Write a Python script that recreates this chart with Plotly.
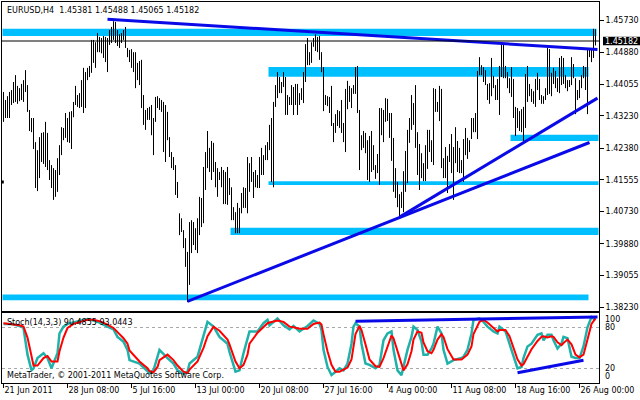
import plotly.graph_objects as go

# ---------------- data ----------------
symbol = "EURUSD,H4"
last_ohlc = [1.45381, 1.45488, 1.45065, 1.45182]

highs = [
    1.4385, 1.4364, 1.4374, 1.4385, 1.4390, 1.4411, 1.4429, 1.4401, 1.4395, 1.4406,
    1.4416, 1.4442, 1.4403, 1.4338, 1.4317, 1.4317, 1.4254, 1.4233, 1.4267, 1.4278,
    1.4280, 1.4307, 1.4278, 1.4207, 1.4194, 1.4186, 1.4181, 1.4212, 1.4246, 1.4293,
    1.4291, 1.4330, 1.4317, 1.4333, 1.4335, 1.4359, 1.4401, 1.4377, 1.4382, 1.4416,
    1.4448, 1.4437, 1.4448, 1.4453, 1.4521, 1.4521, 1.4515, 1.4539, 1.4529,
    1.4526, 1.4531, 1.4529, 1.4526, 1.4547, 1.4555, 1.4570, 1.4568, 1.4547, 1.4536,
    1.4539, 1.4547, 1.4555, 1.4500, 1.4495, 1.4497, 1.4489, 1.4489, 1.4461, 1.4466,
    1.4469, 1.4377, 1.4338, 1.4343, 1.4346, 1.4351, 1.4317, 1.4372, 1.4374, 1.4369,
    1.4364, 1.4359, 1.4351, 1.4333, 1.4267, 1.4228, 1.4215, 1.4194, 1.4150, 1.4068,
    1.4055, 1.4024, 1.4003, 1.3967, 1.4045, 1.4050, 1.4045, 1.4029, 1.4055, 1.4111,
    1.4108, 1.4189, 1.4228, 1.4283, 1.4239, 1.4257, 1.4252, 1.4202, 1.4186, 1.4176,
    1.4189, 1.4181, 1.4176, 1.4189, 1.4160, 1.4136, 1.4084, 1.4071, 1.4095, 1.4082,
    1.4121, 1.4136, 1.4134, 1.4215, 1.4199, 1.4215, 1.4176, 1.4181, 1.4168, 1.4215,
    1.4239, 1.4220, 1.4246, 1.4254, 1.4299, 1.4317, 1.4359, 1.4403, 1.4437, 1.4424,
    1.4411, 1.4437, 1.4424, 1.4377, 1.4372, 1.4403, 1.4398, 1.4406, 1.4406, 1.4382,
    1.4395, 1.4437, 1.4510, 1.4526, 1.4489, 1.4515, 1.4526, 1.4536, 1.4529, 1.4531,
    1.4489, 1.4450, 1.4377, 1.4374, 1.4372, 1.4401, 1.4304, 1.4327, 1.4338, 1.4335,
    1.4364, 1.4304, 1.4393, 1.4414, 1.4401, 1.4395, 1.4403, 1.4450, 1.4453, 1.4338,
    1.4272, 1.4283, 1.4278, 1.4259, 1.4270, 1.4283, 1.4246, 1.4194, 1.4223, 1.4343,
    1.4343, 1.4338, 1.4369, 1.4367, 1.4330, 1.4330, 1.4265, 1.4186, 1.4150, 1.4118,
    1.4124, 1.4178, 1.4231, 1.4286, 1.4317, 1.4377, 1.4356, 1.4403, 1.4280, 1.4249,
    1.4225, 1.4199, 1.4246, 1.4286, 1.4286, 1.4259, 1.4395, 1.4393, 1.4359, 1.4401,
    1.4393, 1.4212, 1.4241, 1.4218, 1.4249, 1.4275, 1.4241, 1.4293, 1.4257, 1.4239,
    1.4207, 1.4262, 1.4291, 1.4265, 1.4259, 1.4317, 1.4317, 1.4330, 1.4440, 1.4476,
    1.4455, 1.4450, 1.4442, 1.4406, 1.4408, 1.4474, 1.4427, 1.4403, 1.4419, 1.4453,
    1.4515, 1.4510, 1.4453, 1.4437, 1.4421, 1.4450, 1.4419, 1.4346, 1.4343, 1.4335,
    1.4340, 1.4346, 1.4432, 1.4453, 1.4406, 1.4393, 1.4387, 1.4419, 1.4435, 1.4419,
    1.4377, 1.4374, 1.4395, 1.4500, 1.4497, 1.4435, 1.4448, 1.4440, 1.4421, 1.4474,
    1.4479, 1.4474, 1.4429, 1.4416, 1.4416, 1.4476, 1.4458, 1.4421, 1.4390, 1.4416,
    1.4429, 1.4453, 1.4450, 1.4497, 1.4500, 1.4497, 1.4550, 1.45488,
]

lows = [
    1.4307, 1.4317, 1.4317, 1.4317, 1.4351, 1.4356, 1.4359, 1.4354, 1.4361, 1.4364,
    1.4359, 1.4385, 1.4333, 1.4283, 1.4280, 1.4236, 1.4134, 1.4126, 1.4160, 1.4202,
    1.4197, 1.4189, 1.4181, 1.4155, 1.4134, 1.4103, 1.4111, 1.4124, 1.4168, 1.4220,
    1.4259, 1.4265, 1.4254, 1.4252, 1.4236, 1.4319, 1.4351, 1.4346, 1.4343, 1.4346,
    1.4330, 1.4343, 1.4416, 1.4424, 1.4435, 1.4461, 1.4448, 1.4489, 1.4489,
    1.4486, 1.4474, 1.4463, 1.4437, 1.4508, 1.4513, 1.4521, 1.4513, 1.4505, 1.4500,
    1.4513, 1.4521, 1.4500, 1.4476, 1.4463, 1.4448, 1.4437, 1.4395, 1.4416, 1.4403,
    1.4343, 1.4299, 1.4286, 1.4312, 1.4312, 1.4272, 1.4220, 1.4307, 1.4343, 1.4338,
    1.4333, 1.4228, 1.4202, 1.4259, 1.4215, 1.4186, 1.4181, 1.4116, 1.4108, 1.4011,
    1.4019, 1.3977, 1.3928, 1.3836, 1.3881, 1.3964, 1.3985, 1.3972, 1.3964, 1.4011,
    1.4032, 1.4042, 1.4129, 1.4186, 1.4176, 1.4155, 1.4176, 1.4136, 1.4111, 1.4155,
    1.4136, 1.4092, 1.4092, 1.4090, 1.4116, 1.4050, 1.4050, 1.4016, 1.4016, 1.4016,
    1.4068, 1.4082, 1.4082, 1.4068, 1.4124, 1.4150, 1.4108, 1.4136, 1.4134, 1.4134,
    1.4168, 1.4168, 1.4207, 1.4207, 1.4233, 1.4150, 1.4136, 1.4346, 1.4369, 1.4382,
    1.4382, 1.4398, 1.4325, 1.4325, 1.4351, 1.4351, 1.4325, 1.4351, 1.4325, 1.4351,
    1.4364, 1.4356, 1.4411, 1.4455, 1.4455, 1.4461, 1.4503, 1.4492, 1.4489, 1.4469,
    1.4437, 1.4335, 1.4351, 1.4348, 1.4330, 1.4296, 1.4254, 1.4278, 1.4296, 1.4291,
    1.4278, 1.4254, 1.4228, 1.4340, 1.4359, 1.4343, 1.4380, 1.4380, 1.4330, 1.4181,
    1.4233, 1.4239, 1.4225, 1.4155, 1.4150, 1.4176, 1.4181, 1.4158, 1.4173, 1.4142,
    1.4272, 1.4254, 1.4307, 1.4309, 1.4265, 1.4205, 1.4124, 1.4108, 1.4084, 1.4055,
    1.4082, 1.4071, 1.4124, 1.4147, 1.4252, 1.4286, 1.4299, 1.4239, 1.4168, 1.4129,
    1.4160, 1.4152, 1.4152, 1.4184, 1.4228, 1.4202, 1.4194, 1.4333, 1.4333, 1.4309,
    1.4186, 1.4160, 1.4160, 1.4121, 1.4202, 1.4173, 1.4103, 1.4199, 1.4176, 1.4173,
    1.4173, 1.4150, 1.4220, 1.4210, 1.4228, 1.4262, 1.4280, 1.4280, 1.4262, 1.4429,
    1.4429, 1.4411, 1.4403, 1.4364, 1.4354, 1.4374, 1.4395, 1.4364, 1.4364, 1.4325,
    1.4424, 1.4421, 1.4421, 1.4395, 1.4382, 1.4372, 1.4317, 1.4270, 1.4291, 1.4283,
    1.4280, 1.4257, 1.4291, 1.4359, 1.4374, 1.4359, 1.4354, 1.4346, 1.4390, 1.4364,
    1.4354, 1.4354, 1.4364, 1.4377, 1.4380, 1.4374, 1.4406, 1.4395, 1.4385, 1.4382,
    1.4403, 1.4406, 1.4395, 1.4387, 1.4398, 1.4403, 1.4421, 1.4327, 1.4364, 1.4369,
    1.4395, 1.4421, 1.4390, 1.4327, 1.4476, 1.4463, 1.4474, 1.45065,
]

price_ticks = [1.45730, 1.44880, 1.44055, 1.43230, 1.42380,
               1.41555, 1.40730, 1.39880, 1.39055, 1.38230]

time_tick_idx = [0, 32, 64, 96, 128, 160, 192, 224, 256, 288]
time_tick_labels = ["21 Jun 2011", "28 Jun 08:00", "5 Jul 16:00", "13 Jul 00:00",
                    "20 Jul 08:00", "27 Jul 16:00", "4 Aug 00:00", "11 Aug 08:00",
                    "18 Aug 16:00", "26 Aug 00:00"]

# horizontal support / resistance zones (bar index span, price band)
zone_start = [0, 133, 254, 133, 114, 0]
zone_end = [296, 292, 297, 297, 297, 292]
zone_low = [1.4531, 1.4425, 1.4257, 1.4142, 1.4011, 1.3841]
zone_high = [1.4550, 1.4450, 1.4273, 1.4152, 1.4030, 1.3856]

# trend lines on price (bar index, price)
trend_x = [[52, 297], [92, 293], [198, 297]]
trend_y = [[1.4575, 1.4496], [1.3838, 1.4253], [1.4058, 1.4369]]

level_mark_price = 1.4150

# Stochastic (14,3,3)
stoch_idx = [0, 4, 8, 10, 12, 14, 15, 17, 20, 22,
             24, 27, 28, 30, 32, 35, 38, 42, 45, 48,
             52, 55, 57, 60, 62, 63, 68, 72, 73, 75,
             77, 78, 82, 85, 87, 90, 92, 93, 97, 98,
             100, 102, 105, 108, 112, 113, 116, 118, 120, 122,
             123, 127, 130, 132, 133, 137, 140, 143, 145, 148,
             152, 155, 158, 159, 160, 162, 164, 166, 168, 170,
             172, 174, 175, 176, 178, 179, 181, 183, 186, 188,
             190, 192, 194, 195, 197, 199, 200, 202, 204, 205,
             207, 209, 210, 212, 214, 215, 217, 219, 220, 222,
             225, 229, 230, 232, 234, 235, 238, 240, 242, 245,
             247, 248, 251, 253, 255, 257, 259, 260, 262, 264,
             267, 269, 270, 272, 274, 275, 277, 279, 280, 282,
             284, 286, 288, 290, 292, 294, 296]
stoch_k = [85, 85, 82, 79, 40, 17, 20, 35, 42, 35,
           20, 42, 71, 81, 85, 87, 90, 92, 90, 87,
           81, 77, 66, 59, 47, 32, 27, 15, 13, 17,
           35, 47, 35, 27, 17, 12, 15, 27, 37, 47,
           66, 88, 81, 66, 56, 44, 15, 17, 42, 61,
           74, 74, 86, 91, 83, 93, 83, 77, 82, 74,
           82, 90, 85, 76, 47, 22, 10, 15, 20, 17,
           27, 56, 81, 86, 81, 56, 27, 25, 20, 25,
           61, 71, 74, 47, 17, 10, 22, 47, 66, 81,
           76, 59, 40, 40, 49, 56, 81, 71, 47, 27,
           32, 35, 37, 47, 71, 91, 93, 88, 81, 74,
           71, 81, 74, 56, 35, 20, 22, 35, 52, 56,
           69, 71, 61, 69, 69, 61, 49, 56, 66, 64,
           37, 35, 35, 52, 80, 95, 90.4855]
stoch_d = [86, 85, 83, 81, 65, 38, 24, 24, 35, 38,
           30, 30, 45, 65, 79, 85, 88, 91, 91, 89,
           84, 79, 73, 64, 56, 46, 30, 20, 16, 14,
           22, 32, 40, 32, 24, 15, 13, 18, 30, 37,
           50, 67, 81, 75, 62, 55, 30, 20, 25, 40,
           56, 72, 80, 86, 87, 90, 88, 81, 80, 78,
           78, 85, 87, 84, 70, 45, 25, 15, 15, 18,
           21, 33, 55, 70, 82, 76, 55, 33, 23, 22,
           35, 52, 68, 64, 45, 25, 17, 26, 45, 62,
           74, 72, 58, 45, 42, 47, 62, 70, 66, 48,
           33, 33, 35, 40, 52, 70, 88, 91, 87, 79,
           74, 76, 76, 67, 50, 33, 24, 26, 37, 48,
           60, 66, 67, 65, 67, 66, 58, 54, 57, 62,
           55, 40, 36, 40, 62, 85, 93.0443]
stoch_levels = [20, 80]
stoch_label_vals = [100, 80, 20, 0]
stoch_trend_x = [[176, 297], [257, 290]]
stoch_trend_y = [[88.8, 95.1], [13.4, 31.7]]

# ---------------- styling ----------------
FONT = "DejaVu Sans"
FS = 8
W, H = 640, 400
ZONE_COL = "#00BFFF"
TREND_COL = "#0A0AE8"


def px_x(p):
    return p / W


def px_y(p):
    return 1 - p / H


fig = go.Figure()

# OHLC bars drawn as thin vertical strokes from low to high
bx, by = [], []
for i, (h, l) in enumerate(zip(highs, lows)):
    bx += [i, i, None]
    by += [l, h, None]
fig.add_trace(go.Scatter(x=bx, y=by, mode="lines",
                         line=dict(color="black", width=1),
                         xaxis="x", yaxis="y", hoverinfo="skip"))

# trend lines
for tx, ty in zip(trend_x, trend_y):
    fig.add_trace(go.Scatter(x=tx, y=ty, mode="lines",
                             line=dict(color=TREND_COL, width=3),
                             xaxis="x", yaxis="y", hoverinfo="skip"))

fig.add_trace(go.Scatter(x=[-0.6], y=[level_mark_price], mode="markers",
                         marker=dict(symbol="square", size=3, color="black"),
                         xaxis="x", yaxis="y", hoverinfo="skip"))

# stochastic
fig.add_trace(go.Scatter(x=stoch_idx, y=stoch_k, mode="lines",
                         line=dict(color="#20B2AA", width=2.5),
                         xaxis="x2", yaxis="y2", hoverinfo="skip"))
fig.add_trace(go.Scatter(x=stoch_idx, y=stoch_d, mode="lines",
                         line=dict(color="#FF0000", width=2),
                         xaxis="x2", yaxis="y2", hoverinfo="skip"))
for tx, ty in zip(stoch_trend_x, stoch_trend_y):
    fig.add_trace(go.Scatter(x=tx, y=ty, mode="lines",
                             line=dict(color=TREND_COL, width=3),
                             xaxis="x2", yaxis="y2", hoverinfo="skip"))

shapes = []
for s, e, lo, hi in zip(zone_start, zone_end, zone_low, zone_high):
    shapes.append(dict(type="rect", xref="x", yref="y", x0=s - 0.5, x1=e + 0.5,
                       y0=lo, y1=hi, fillcolor=ZONE_COL, line=dict(width=0),
                       layer="below"))
# current price line
shapes.append(dict(type="line", xref="x domain", yref="y", x0=0, x1=1,
                   y0=last_ohlc[3], y1=last_ohlc[3],
                   line=dict(color="black", width=1)))
# current price box on the price scale
shapes.append(dict(type="rect", xref="paper", yref="y", x0=px_x(603), x1=1,
                   y0=last_ohlc[3] - 0.0011, y1=last_ohlc[3] + 0.0011,
                   fillcolor="black", line=dict(width=0)))

annotations = []
title_txt = symbol + "\u00a0\u00a0" + " ".join(f"{v:.5f}" for v in last_ohlc)
annotations.append(dict(text=title_txt, xref="paper", yref="paper",
                        x=px_x(5), y=px_y(10.5), xanchor="left", yanchor="middle",
                        showarrow=False, font=dict(family=FONT, size=FS, color="black")))
annotations.append(dict(text=f"{last_ohlc[3]:.5f}", xref="paper", yref="y",
                        x=px_x(604), y=last_ohlc[3], xanchor="left", yanchor="middle",
                        showarrow=False, borderpad=0,
                        font=dict(family=FONT, size=FS, color="white")))
annotations.append(dict(text=f"Stoch(14,3,3) {stoch_k[-1]:.4f} {stoch_d[-1]:.4f}",
                        xref="paper", yref="paper", x=px_x(5), y=px_y(322.5),
                        xanchor="left", yanchor="middle", showarrow=False,
                        font=dict(family=FONT, size=FS, color="black")))
annotations.append(dict(text="MetaTrader, © 2001-2011 MetaQuotes Software Corp.",
                        xref="paper", yref="paper", x=px_x(5), y=px_y(375),
                        xanchor="left", yanchor="middle", showarrow=False,
                        font=dict(family=FONT, size=FS, color="black")))
anchors = {100: "top", 80: "middle", 20: "middle", 0: "bottom"}
for v in stoch_label_vals:
    annotations.append(dict(text=str(v), xref="paper", yref="y2",
                            x=px_x(604), y=v, xanchor="left", yanchor=anchors[v],
                            showarrow=False, borderpad=0,
                            font=dict(family=FONT, size=FS, color="black")))

x_dom = [px_x(2), px_x(599)]
x_range = [-0.75, 297.75]

fig.update_layout(
    width=W, height=H, margin=dict(l=0, r=0, t=0, b=0, autoexpand=False),
    paper_bgcolor="white", plot_bgcolor="white", showlegend=False,
    font=dict(family=FONT, size=FS, color="black"),
    shapes=shapes, annotations=annotations,
    xaxis=dict(domain=x_dom, range=x_range, anchor="y", automargin=False,
               showline=True, mirror=True, linecolor="black", linewidth=1,
               showgrid=False, zeroline=False, showticklabels=False, ticks=""),
    yaxis=dict(domain=[px_y(310.5), px_y(2)], range=[1.38140, 1.46201],
               side="right", anchor="x", automargin=False,
               tickvals=price_ticks, ticktext=[f"{v:.5f}" for v in price_ticks],
               ticks="outside", ticklen=4, tickcolor="black",
               showline=True, mirror=True, linecolor="black", linewidth=1,
               showgrid=False, zeroline=False,
               tickfont=dict(family=FONT, size=FS, color="black")),
    xaxis2=dict(domain=x_dom, range=x_range, anchor="y2", automargin=False,
                showline=True, mirror=True, linecolor="black", linewidth=1,
                showgrid=False, zeroline=False,
                tickvals=time_tick_idx, ticktext=time_tick_labels,
                ticks="outside", ticklen=4, tickcolor="black", tickangle=0,
                ticklabelposition="outside right",
                tickfont=dict(family=FONT, size=FS, color="black")),
    yaxis2=dict(domain=[px_y(382.5), px_y(312.5)], range=[-0.8, 101.7],
                side="right", anchor="x2", automargin=False,
                tickvals=stoch_levels, showticklabels=False, ticks="",
                showgrid=True, gridcolor="#A8A8A8", griddash="3px,3px", gridwidth=1,
                showline=True, mirror=True, linecolor="black", linewidth=1,
                zeroline=False),
)

fig.write_html("out.html", config={"displayModeBar": False},
               post_script="document.body.style.margin='0';document.body.style.padding='0';")
